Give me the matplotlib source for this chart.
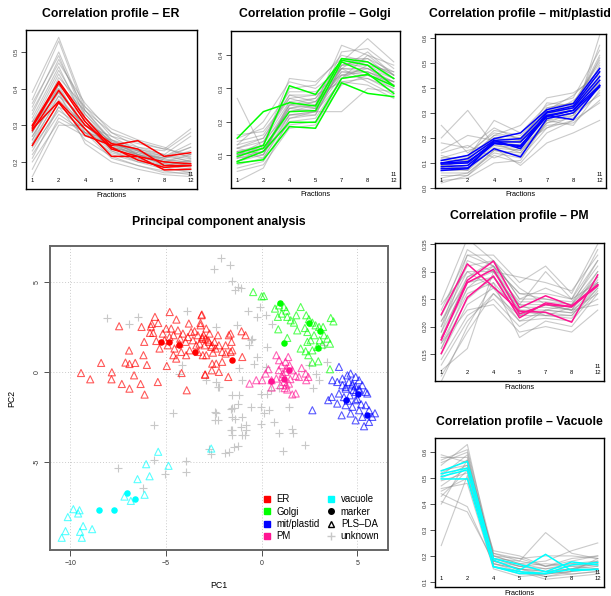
import matplotlib
matplotlib.use("Agg")
import matplotlib.pyplot as plt
import matplotlib.transforms as mtransforms
from matplotlib.lines import Line2D
import numpy as np

plt.rcParams['font.family'] = ['Liberation Sans', 'DejaVu Sans']

# ---------------- data ----------------
fractions = ["1", "2", "4", "5", "7", "8", "12"]

er_col = "#FF0000"
golgi_col = "#00FF00"
mit_col = "#0000FF"
pm_col = "#FF1493"
vac_col = "#00FFFF"

er_markers = [
    [0.300, 0.420, 0.320, 0.240, 0.205, 0.185, 0.190],
    [0.295, 0.415, 0.310, 0.235, 0.215, 0.200, 0.195],
    [0.285, 0.395, 0.300, 0.250, 0.235, 0.190, 0.190],
    [0.290, 0.365, 0.290, 0.215, 0.215, 0.178, 0.180],
    [0.245, 0.362, 0.272, 0.245, 0.258, 0.215, 0.225],
]
er_other = [
    [0.28, 0.40, 0.30, 0.235, 0.215, 0.195, 0.205],
    [0.27, 0.38, 0.29, 0.23, 0.21, 0.19, 0.20],
    [0.29, 0.42, 0.31, 0.24, 0.22, 0.20, 0.21],
    [0.26, 0.37, 0.30, 0.245, 0.22, 0.20, 0.22],
    [0.30, 0.44, 0.32, 0.25, 0.225, 0.205, 0.215],
    [0.25, 0.36, 0.28, 0.225, 0.205, 0.185, 0.195],
    [0.31, 0.45, 0.33, 0.26, 0.23, 0.21, 0.22],
    [0.33, 0.48, 0.34, 0.255, 0.22, 0.20, 0.19],
    [0.35, 0.50, 0.33, 0.25, 0.215, 0.195, 0.185],
    [0.37, 0.53, 0.34, 0.26, 0.22, 0.19, 0.18],
    [0.39, 0.54, 0.35, 0.27, 0.23, 0.20, 0.19],
    [0.24, 0.34, 0.29, 0.24, 0.225, 0.21, 0.23],
    [0.22, 0.33, 0.28, 0.245, 0.23, 0.215, 0.25],
    [0.20, 0.31, 0.27, 0.25, 0.235, 0.22, 0.27],
    [0.16, 0.30, 0.30, 0.27, 0.25, 0.235, 0.29],
    [0.18, 0.32, 0.28, 0.26, 0.24, 0.23, 0.28],
    [0.23, 0.35, 0.26, 0.215, 0.19, 0.17, 0.17],
    [0.27, 0.39, 0.25, 0.20, 0.18, 0.165, 0.16],
    [0.29, 0.41, 0.28, 0.21, 0.19, 0.175, 0.165],
    [0.32, 0.46, 0.31, 0.23, 0.20, 0.18, 0.175],
    [0.34, 0.47, 0.36, 0.28, 0.24, 0.22, 0.20],
    [0.28, 0.43, 0.35, 0.29, 0.26, 0.24, 0.21],
    [0.26, 0.41, 0.34, 0.28, 0.255, 0.235, 0.22],
    [0.30, 0.39, 0.30, 0.24, 0.22, 0.21, 0.24],
    [0.31, 0.40, 0.29, 0.22, 0.20, 0.19, 0.205],
    [0.25, 0.38, 0.32, 0.25, 0.23, 0.205, 0.20],
    [0.36, 0.49, 0.32, 0.24, 0.21, 0.185, 0.17],
    [0.21, 0.35, 0.31, 0.255, 0.235, 0.215, 0.24],
]

golgi_markers = [
    [0.150, 0.230, 0.257, 0.247, 0.390, 0.380, 0.330],
    [0.105, 0.128, 0.308, 0.282, 0.385, 0.370, 0.307],
    [0.095, 0.120, 0.230, 0.233, 0.380, 0.345, 0.285],
    [0.080, 0.110, 0.198, 0.198, 0.330, 0.342, 0.307],
    [0.075, 0.085, 0.185, 0.180, 0.317, 0.285, 0.275],
]
golgi_other = [
    [0.10, 0.12, 0.24, 0.25, 0.36, 0.36, 0.32],
    [0.09, 0.11, 0.23, 0.24, 0.35, 0.35, 0.31],
    [0.11, 0.13, 0.25, 0.26, 0.37, 0.37, 0.33],
    [0.12, 0.14, 0.26, 0.27, 0.36, 0.35, 0.32],
    [0.08, 0.10, 0.22, 0.23, 0.34, 0.36, 0.33],
    [0.13, 0.15, 0.27, 0.25, 0.35, 0.34, 0.30],
    [0.07, 0.09, 0.21, 0.22, 0.37, 0.38, 0.34],
    [0.14, 0.16, 0.28, 0.28, 0.38, 0.36, 0.31],
    [0.10, 0.11, 0.25, 0.24, 0.39, 0.39, 0.33],
    [0.06, 0.08, 0.20, 0.21, 0.33, 0.37, 0.35],
    [0.15, 0.18, 0.29, 0.29, 0.34, 0.33, 0.29],
    [0.11, 0.12, 0.22, 0.23, 0.32, 0.33, 0.30],
    [0.09, 0.13, 0.30, 0.31, 0.40, 0.38, 0.34],
    [0.12, 0.10, 0.26, 0.24, 0.41, 0.42, 0.36],
    [0.08, 0.12, 0.19, 0.20, 0.31, 0.34, 0.32],
    [0.05, 0.07, 0.18, 0.19, 0.33, 0.40, 0.37],
    [0.27, 0.11, 0.24, 0.26, 0.34, 0.35, 0.32],
    [0.02, 0.06, 0.21, 0.23, 0.36, 0.41, 0.34],
    [0.13, 0.20, 0.32, 0.30, 0.36, 0.32, 0.28],
    [0.16, 0.17, 0.27, 0.28, 0.32, 0.31, 0.27],
    [0.10, 0.14, 0.23, 0.25, 0.43, 0.40, 0.34],
    [0.09, 0.10, 0.25, 0.27, 0.38, 0.45, 0.38],
    [0.11, 0.09, 0.22, 0.22, 0.37, 0.39, 0.35],
    [0.12, 0.15, 0.28, 0.26, 0.33, 0.34, 0.31],
    [0.08, 0.11, 0.24, 0.23, 0.23, 0.30, 0.29],
    [0.10, 0.13, 0.33, 0.32, 0.39, 0.37, 0.31],
]

mit_markers = [
    [0.110, 0.130, 0.197, 0.220, 0.313, 0.337, 0.477],
    [0.100, 0.117, 0.190, 0.197, 0.304, 0.327, 0.464],
    [0.095, 0.100, 0.184, 0.184, 0.290, 0.310, 0.430],
    [0.085, 0.090, 0.177, 0.170, 0.285, 0.310, 0.410],
    [0.077, 0.080, 0.157, 0.124, 0.277, 0.300, 0.404],
    [0.070, 0.077, 0.190, 0.157, 0.290, 0.273, 0.410],
    [0.100, 0.105, 0.180, 0.165, 0.300, 0.320, 0.445],
]
mit_other = [
    [0.09, 0.09, 0.18, 0.17, 0.29, 0.31, 0.44],
    [0.08, 0.08, 0.17, 0.16, 0.28, 0.30, 0.42],
    [0.10, 0.10, 0.19, 0.18, 0.30, 0.32, 0.46],
    [0.11, 0.11, 0.20, 0.19, 0.31, 0.33, 0.48],
    [0.07, 0.07, 0.16, 0.15, 0.27, 0.29, 0.40],
    [0.12, 0.12, 0.21, 0.20, 0.32, 0.34, 0.50],
    [0.06, 0.06, 0.15, 0.14, 0.26, 0.28, 0.38],
    [0.13, 0.10, 0.18, 0.19, 0.30, 0.31, 0.52],
    [0.25, 0.14, 0.22, 0.20, 0.28, 0.30, 0.37],
    [0.20, 0.31, 0.17, 0.15, 0.25, 0.26, 0.35],
    [0.15, 0.21, 0.19, 0.17, 0.24, 0.27, 0.34],
    [0.08, 0.12, 0.27, 0.22, 0.33, 0.36, 0.55],
    [0.05, 0.05, 0.13, 0.10, 0.22, 0.27, 0.61],
    [0.04, 0.06, 0.14, 0.12, 0.24, 0.29, 0.57],
    [0.09, 0.11, 0.21, 0.25, 0.36, 0.38, 0.45],
    [0.10, 0.08, 0.16, 0.09, 0.18, 0.22, 0.27],
    [0.14, 0.17, 0.12, 0.16, 0.29, 0.35, 0.43],
    [0.03, 0.04, 0.10, 0.11, 0.27, 0.32, 0.53],
    [0.07, 0.09, 0.20, 0.18, 0.34, 0.33, 0.41],
    [0.11, 0.13, 0.23, 0.21, 0.31, 0.37, 0.47],
    [0.02, 0.05, 0.15, 0.13, 0.26, 0.30, 0.49],
    [0.12, 0.15, 0.18, 0.14, 0.27, 0.25, 0.39],
    [0.18, 0.16, 0.24, 0.19, 0.29, 0.33, 0.42],
    [0.09, 0.07, 0.19, 0.16, 0.32, 0.34, 0.51],
]

pm_markers = [
    [0.222, 0.314, 0.272, 0.228, 0.226, 0.208, 0.294],
    [0.176, 0.284, 0.319, 0.234, 0.256, 0.238, 0.276],
    [0.151, 0.253, 0.292, 0.216, 0.243, 0.236, 0.274],
    [0.176, 0.280, 0.304, 0.223, 0.240, 0.236, 0.276],
]
pm_other = [
    [0.19, 0.28, 0.30, 0.235, 0.235, 0.23, 0.285],
    [0.18, 0.27, 0.29, 0.23, 0.23, 0.225, 0.28],
    [0.20, 0.29, 0.31, 0.24, 0.24, 0.235, 0.29],
    [0.21, 0.30, 0.30, 0.245, 0.245, 0.24, 0.30],
    [0.17, 0.26, 0.28, 0.225, 0.225, 0.22, 0.275],
    [0.22, 0.31, 0.32, 0.25, 0.25, 0.245, 0.31],
    [0.16, 0.25, 0.29, 0.22, 0.22, 0.215, 0.27],
    [0.23, 0.33, 0.31, 0.26, 0.26, 0.25, 0.32],
    [0.15, 0.24, 0.27, 0.21, 0.215, 0.21, 0.265],
    [0.245, 0.36, 0.32, 0.27, 0.24, 0.23, 0.30],
    [0.12, 0.16, 0.30, 0.23, 0.22, 0.235, 0.28],
    [0.10, 0.20, 0.28, 0.18, 0.21, 0.20, 0.26],
    [0.14, 0.22, 0.25, 0.20, 0.23, 0.225, 0.25],
    [0.20, 0.33, 0.33, 0.28, 0.31, 0.26, 0.35],
    [0.19, 0.32, 0.30, 0.29, 0.28, 0.265, 0.33],
    [0.17, 0.23, 0.24, 0.19, 0.20, 0.19, 0.23],
    [0.24, 0.30, 0.27, 0.24, 0.30, 0.25, 0.28],
    [0.13, 0.21, 0.26, 0.22, 0.24, 0.23, 0.24],
    [0.18, 0.29, 0.32, 0.25, 0.27, 0.25, 0.34],
    [0.16, 0.27, 0.31, 0.26, 0.25, 0.24, 0.32],
    [0.21, 0.28, 0.29, 0.24, 0.22, 0.22, 0.27],
    [0.11, 0.19, 0.26, 0.21, 0.23, 0.24, 0.29],
    [0.22, 0.34, 0.31, 0.22, 0.24, 0.23, 0.26],
]

vac_markers = [
    [0.528, 0.565, 0.190, 0.167, 0.139, 0.177, 0.165],
    [0.517, 0.539, 0.184, 0.145, 0.206, 0.143, 0.148],
    [0.506, 0.532, 0.158, 0.139, 0.132, 0.165, 0.175],
    [0.497, 0.497, 0.158, 0.132, 0.132, 0.148, 0.148],
]
vac_other = [
    [0.59, 0.56, 0.21, 0.19, 0.16, 0.17, 0.18],
    [0.58, 0.58, 0.20, 0.17, 0.15, 0.16, 0.17],
    [0.56, 0.60, 0.19, 0.16, 0.14, 0.15, 0.16],
    [0.55, 0.63, 0.18, 0.15, 0.13, 0.14, 0.15],
    [0.53, 0.55, 0.17, 0.14, 0.12, 0.13, 0.14],
    [0.49, 0.52, 0.16, 0.13, 0.13, 0.14, 0.15],
    [0.47, 0.54, 0.22, 0.20, 0.16, 0.18, 0.20],
    [0.45, 0.50, 0.19, 0.18, 0.29, 0.21, 0.19],
    [0.44, 0.39, 0.17, 0.15, 0.14, 0.15, 0.17],
    [0.41, 0.37, 0.18, 0.16, 0.15, 0.17, 0.16],
    [0.40, 0.57, 0.20, 0.17, 0.18, 0.22, 0.25],
    [0.24, 0.51, 0.16, 0.14, 0.11, 0.12, 0.13],
    [0.51, 0.59, 0.18, 0.15, 0.12, 0.14, 0.19],
    [0.57, 0.61, 0.21, 0.18, 0.16, 0.19, 0.20],
    [0.46, 0.48, 0.15, 0.12, 0.13, 0.15, 0.18],
    [0.52, 0.57, 0.19, 0.16, 0.17, 0.16, 0.15],
    [0.43, 0.53, 0.20, 0.19, 0.20, 0.20, 0.19],
    [0.50, 0.55, 0.17, 0.15, 0.14, 0.13, 0.14],
]

# PCA scores (PC1, PC2)
er_pls = [
    (-9.43, -0.06), (-8.95, -0.41), (-8.38, 0.50), (-7.82, -0.02), (-7.84, -0.41),
    (-7.44, 2.54), (-7.30, -0.67), (-7.11, 0.52), (-6.90, 0.44), (-6.60, 0.50),
    (-6.92, 1.19), (-6.90, -0.93), (-6.66, -0.19), (-6.32, -0.67), (-6.27, 2.50),
    (-6.17, 0.93), (-5.99, 0.39), (-6.11, -1.26), (-5.78, 2.52), (-5.83, 2.17),
    (-5.66, 2.17), (-5.74, 2.67), (-5.57, 3.06), (-5.40, 2.72), (-5.42, -0.56),
    (-6.13, 1.67), (-5.50, 1.72), (-5.33, 1.30), (-5.16, 2.13), (-4.98, 2.41),
    (-4.80, 3.33), (-4.45, 2.91), (-4.95, 0.33), (-4.61, 0.93), (-4.46, 0.74),
    (-4.18, -0.06), (-3.91, -1.02), (-3.80, 2.69), (-3.50, 2.26), (-3.41, 1.48),
    (-3.19, 2.72), (-3.12, 3.19), (-3.03, 2.04), (-2.89, 2.41), (-2.94, -0.15),
    (-2.54, 1.07), (-2.37, 0.46), (-2.60, 0.09), (-3.07, 0.93),
    (-4.72, 2.41), (-4.60, 2.04), (-4.37, 2.31), (-4.25, 1.85), (-4.11, 2.13),
    (-3.97, 1.67), (-3.85, 1.94), (-3.68, 2.22), (-3.59, 1.76), (-3.33, 2.04),
    (-3.24, 1.57), (-3.10, 1.85), (-2.98, 1.48), (-2.80, 1.76), (-2.72, 2.13),
    (-2.63, 1.39), (-2.46, 1.67), (-2.28, 2.04), (-4.55, 1.30), (-4.20, 1.11),
    (-3.76, 1.20), (-3.94, 0.93), (-3.33, 1.11), (-2.89, 0.93), (-4.29, 1.57),
    (-4.90, 1.48), (-5.07, 1.76), (-4.81, 1.94),
    (-3.14, 3.15), (-3.19, 2.59), (-3.10, 1.94), (-2.93, 1.85), (-2.75, 1.67),
    (-2.58, 1.48), (-2.40, 1.30), (-2.23, 1.48), (-2.06, 1.11), (-1.88, 1.48),
    (-1.71, 2.04), (-1.62, 2.13), (-1.57, 1.67), (-1.53, 1.20), (-1.05, 2.26),
    (-0.84, 2.04), (-1.01, 0.83), (-1.74, -0.28), (-2.23, 0.00), (-2.96, -0.15),
    (-2.06, 0.56), (-2.58, 0.46), (-1.88, 1.02), (-1.62, 1.11),
]
er_mark = [(-5.24, 1.65), (-4.86, 1.65), (-4.32, 1.50), (-3.48, 1.09), (-1.53, 0.65)]

golgi_pls = [
    (-0.44, 4.44), (0.00, 4.20), (0.12, 4.22), (0.70, 3.52), (0.91, 3.70),
    (1.17, 3.61), (1.29, 3.41), (0.85, 3.06), (1.05, 3.24), (1.34, 3.06),
    (1.52, 2.87), (1.69, 2.74), (1.81, 3.15), (2.04, 3.61), (2.33, 3.15),
    (2.47, 2.93), (2.65, 2.74), (2.82, 2.59), (3.00, 2.50), (3.21, 2.50),
    (3.61, 3.00), (3.75, 2.81), (0.87, 2.37), (1.34, 1.89), (1.86, 2.31),
    (2.26, 2.44), (2.39, 2.22), (2.74, 2.04), (3.26, 2.04), (3.43, 1.85),
    (3.57, 1.57), (3.17, 1.52), (2.91, 1.39), (2.65, 1.20), (2.39, 1.67),
    (2.04, 1.30), (2.30, 1.15), (2.44, 0.93), (2.65, 0.52), (2.96, 0.59),
    (3.57, 0.15), (2.56, 1.76), (3.03, 1.76),
]
golgi_mark = [(0.96, 3.85), (1.15, 1.59), (2.47, 2.72), (3.05, 2.28), (2.94, 1.35)]

mit_pls = [
    (4.04, 0.28), (3.69, -0.46), (3.95, -0.56), (4.22, -0.37), (4.48, -0.19),
    (4.65, -0.09), (4.91, -0.28), (5.09, -0.46), (5.26, -0.74), (5.44, -1.11),
    (4.74, -0.74), (4.39, -0.93), (4.91, -1.11), (5.09, -0.93), (4.56, -0.56),
    (4.22, -0.74), (2.65, -2.13), (3.48, -1.57), (3.66, -1.39), (3.95, -1.76),
    (4.18, -2.41), (4.39, -1.85), (4.65, -2.31), (4.74, -1.94), (4.91, -1.57),
    (5.09, -2.13), (5.26, -2.50), (5.35, -3.02), (5.61, -2.78), (5.78, -2.50),
    (5.92, -2.30), (5.44, -1.85), (5.52, -1.20), (4.04, -1.20), (4.39, -0.83),
    (4.74, -0.65), (5.09, -1.02), (5.61, -2.13), (4.91, -2.69), (4.60, -1.30),
    (4.80, -1.00), (5.00, -1.50), (4.30, -1.40), (5.20, -1.80), (4.50, -1.60),
    (4.90, -0.80),
]
mit_mark = [(4.39, -1.57), (5.03, -1.24), (5.52, -2.37)]

pm_pls = [
    (-0.63, -0.65), (-0.28, -0.46), (0.03, -0.46), (0.21, -0.09), (0.35, 0.15),
    (0.52, -0.46), (0.77, 0.93), (0.91, 0.65), (1.05, 0.37), (1.25, 0.56),
    (1.39, 0.83), (1.46, 0.37), (1.60, 0.09), (1.78, -0.22), (1.95, -0.28),
    (2.09, 0.22), (2.30, -0.09), (2.33, -0.46), (2.44, -0.28), (1.25, 0.00),
    (1.08, -0.28), (1.17, -0.56), (1.29, -0.74), (1.43, -0.65), (0.99, -0.74),
    (0.77, -0.37), (0.52, -0.87), (1.78, -1.20), (1.60, -1.25), (1.34, -0.98),
    (1.10, -0.10), (1.30, 0.20), (0.90, 0.10), (1.50, -0.40), (1.20, -0.90),
]
pm_mark = [(0.47, -0.53), (1.43, 0.09), (1.17, -0.37)]

vac_pls = [
    (-5.40, -4.44), (-6.03, -5.13), (-4.86, -5.22), (-5.85, -5.80), (-6.48, -5.96),
    (-7.16, -6.93), (-6.83, -7.17), (-6.11, -6.83), (-9.83, -7.63), (-9.51, -7.69),
    (-9.58, -7.87), (-10.12, -8.07), (-9.32, -8.57), (-8.85, -8.74), (-10.24, -8.85),
    (-9.48, -8.89), (-9.39, -9.22), (-10.44, -9.22), (-2.63, -4.26),
]
vac_mark = [(-8.50, -7.65), (-7.70, -7.70), (-7.02, -6.72), (-6.60, -7.09)]

unknown = [
    (-8.08, 3.00), (-6.95, 2.67), (-6.46, 3.04), (-3.87, 3.40), (-2.46, 5.70),
    (-2.37, 2.50), (-4.15, 0.37), (-4.29, -0.09), (-2.89, -0.46), (-2.37, -0.56),
    (-2.28, -0.83), (-2.14, 6.33), (-1.66, 5.93), (-1.57, 5.04), (-1.22, 4.72),
    (-1.10, 4.67), (-1.39, 4.54), (-0.70, 3.37), (-0.09, 3.61), (-0.26, 3.06),
    (0.21, 3.15), (0.56, 2.69), (-1.27, 2.59), (-0.57, 1.76), (-0.66, 1.48),
    (-0.49, 1.85), (0.30, 1.39), (-0.23, 0.83), (-1.18, 0.19), (-1.01, -0.46),
    (-0.40, 0.46), (3.00, -0.46), (2.82, -0.09), (2.47, 0.37), (3.26, 1.48),
    (3.43, 0.56), (0.21, 0.28), (-2.23, -0.83), (-1.54, -1.29), (-1.19, -1.29),
    (-2.41, -2.22), (-2.41, -2.65), (-1.54, -1.98), (-1.54, -2.50), (-1.01, -2.50),
    (-0.58, -1.94), (-0.05, -1.94), (0.12, -2.31), (0.38, -2.13), (0.64, -2.78),
    (-0.02, -1.20), (0.29, -1.20), (0.47, -1.02), (-1.62, -3.24), (-1.01, -3.52),
    (-0.84, -3.24), (-0.05, -2.87), (0.91, -3.41), (1.60, -3.15), (1.62, -3.41),
    (1.45, -1.96), (2.28, -4.06), (1.10, -4.37), (-1.43, -4.20), (-1.90, -4.50),
    (2.67, -0.92), (0.90, -0.87), (-5.63, -2.93), (-4.63, -2.31), (-5.64, -4.91),
    (-5.07, -5.70), (-6.20, -6.43), (-3.94, -4.96), (-3.97, -5.56), (-7.51, -5.33),
    (-2.75, -4.31), (-2.63, -4.59), (-1.71, -4.46), (-1.24, -4.11), (-2.37, -2.31),
    (-2.29, -2.69), (-1.59, -2.04), (-1.45, -1.98), (-1.24, -1.76), (-1.41, -2.59),
    (-1.53, -3.24), (-0.80, -2.93), (-1.06, -3.06), (-0.89, -3.52), (-1.53, -3.52),
]

# ---------------- figure ----------------
W, H = 611, 596
fig = plt.figure(figsize=(W / 100, H / 100), dpi=100)


def ax_px(left, top, right, bottom):
    return fig.add_axes([left / W, (H - bottom) / H, (right - left) / W, (bottom - top) / H])


def profile(ax, others, markers, col, ylim, yticks, fmt):
    x = np.arange(1, 8)
    for row in others:
        ax.plot(x, row, color="#8a8a8a", alpha=0.45, lw=0.8)
    for row in markers:
        ax.plot(x, row, color=col, lw=1.1)
    ax.set_xlim(0.76, 7.24)
    ax.set_ylim(*ylim)
    ax.set_xticks([])
    ax.set_yticks(yticks)
    ax.set_yticklabels([fmt % v for v in yticks], rotation=90, va="center", fontsize=4.3)
    ax.tick_params(axis="y", length=3.5, width=0.6, pad=2, colors="#333333")
    for s in ax.spines.values():
        s.set_linewidth(1.0)
    tr1 = mtransforms.offset_copy(ax.get_xaxis_transform(), fig=fig, y=8, units="dots")
    tr2 = mtransforms.offset_copy(ax.get_xaxis_transform(), fig=fig, y=14, units="dots")
    for i, lab in enumerate(fractions):
        ax.text(i + 1, 0, lab, transform=tr1, ha="center", va="center", fontsize=4.2)
    ax.text(7, 0, "11", transform=tr2, ha="center", va="center", fontsize=4.2)
    ax.set_xlabel("Fractions", fontsize=5.3, labelpad=2)


def title_px(x, y, s):
    fig.text(x / W, (H - y) / H, s, ha="center", va="center", fontsize=8.8, fontweight="bold")


ax1 = ax_px(26, 30, 197, 189)
profile(ax1, er_other, er_markers, er_col, (0.126, 0.56), [0.2, 0.3, 0.4, 0.5], "%.1f")
title_px(111, 14, "Correlation profile \u2013 ER")

ax2 = ax_px(231, 31, 400, 188)
profile(ax2, golgi_other, golgi_markers, golgi_col, (0.0, 0.473), [0.1, 0.2, 0.3, 0.4], "%.1f")
title_px(315, 14, "Correlation profile \u2013 Golgi")

ax3 = ax_px(435, 34, 606, 188)
profile(ax3, mit_other, mit_markers, mit_col, (0.0, 0.615), [0.0, 0.1, 0.2, 0.3, 0.4, 0.5, 0.6], "%.1f")
title_px(520, 14, "Correlation profile \u2013 mit/plastid")

ax4 = ax_px(435, 243, 604, 381)
profile(ax4, pm_other, pm_markers, pm_col, (0.101, 0.352), [0.15, 0.20, 0.25, 0.30, 0.35], "%.2f")
title_px(519, 216, "Correlation profile \u2013 PM")

ax5 = ax_px(435, 438, 604, 587)
profile(ax5, vac_other, vac_markers, vac_col, (0.08, 0.655), [0.1, 0.2, 0.3, 0.4, 0.5, 0.6], "%.1f")
title_px(519, 422, "Correlation profile \u2013 Vacuole")

# ---------------- PCA ----------------
ax = ax_px(50, 246, 388, 550)
ax.set_xlim(-11.05, 6.6)
ax.set_ylim(-9.9, 7.0)
ax.set_xticks([-10, -5, 0, 5])
ax.set_yticks([-5, 0, 5])
ax.set_yticklabels(["-5", "0", "5"], rotation=90, va="center")
ax.tick_params(labelsize=5, length=4, width=0.6, pad=3, colors="#333333")
ax.grid(True, color="#cccccc", linestyle=(0, (1, 2)), linewidth=0.7)
ax.set_axisbelow(True)
for s in ax.spines.values():
    s.set_color("#666666")
    s.set_linewidth(1.4)

ux, uy = zip(*unknown)
ax.scatter(ux, uy, marker="+", s=40, color="#c8c8c8", linewidths=0.8, zorder=2)

for pts, col in [(er_pls, er_col), (golgi_pls, golgi_col), (mit_pls, mit_col),
                 (pm_pls, pm_col), (vac_pls, vac_col)]:
    px, py = zip(*pts)
    ax.scatter(px, py, marker="^", s=26, facecolors="none", edgecolors=col,
               alpha=0.65, linewidths=0.8, zorder=3)

for pts, col in [(er_mark, er_col), (golgi_mark, golgi_col), (mit_mark, mit_col),
                 (pm_mark, pm_col), (vac_mark, vac_col)]:
    px, py = zip(*pts)
    ax.scatter(px, py, marker="o", s=22, color=col, linewidths=0, zorder=4)

ax.set_xlabel("PC1", fontsize=6.3, labelpad=10)
ax.set_ylabel("PC2", fontsize=6.3, labelpad=12)
title_px(219, 222, "Principal component analysis")

handles = [
    Line2D([], [], marker="s", ls="", color=er_col, markersize=4),
    Line2D([], [], marker="s", ls="", color=golgi_col, markersize=4),
    Line2D([], [], marker="s", ls="", color=mit_col, markersize=4),
    Line2D([], [], marker="s", ls="", color=pm_col, markersize=4),
    Line2D([], [], marker="s", ls="", color=vac_col, markersize=4),
    Line2D([], [], marker="o", ls="", color="black", markersize=4),
    Line2D([], [], marker="^", ls="", markerfacecolor="none", markeredgecolor="black", markersize=4.5),
    Line2D([], [], marker="+", ls="", color="#c8c8c8", markersize=6),
]
labels = ["ER", "Golgi", "mit/plastid", "PM", "vacuole", "marker", "PLS\u2013DA", "unknown"]
ax.legend(handles, labels, ncol=2, loc="lower right", frameon=False, fontsize=6.9,
          handlelength=0.8, handletextpad=0.6, columnspacing=0.8, labelspacing=0.25,
          borderaxespad=0.5)

fig.savefig("out.png", dpi=100)
